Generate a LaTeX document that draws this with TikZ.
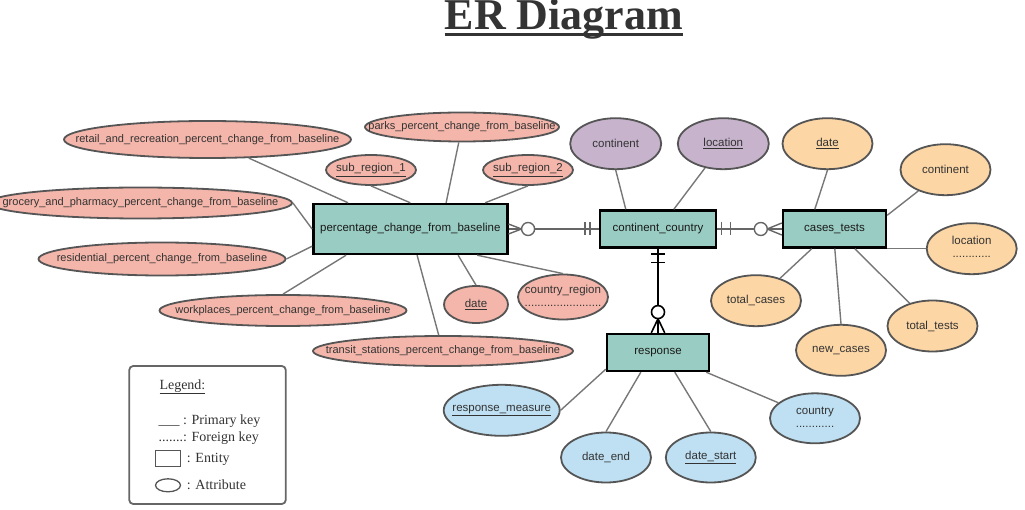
\documentclass[tikz,border=0pt]{standalone}
\usepackage{fontspec}
\setmainfont{Liberation Serif}
\setsansfont{Liberation Sans}
\usetikzlibrary{shapes.geometric,calc}
\definecolor{entfill}{HTML}{99CCC2}
\definecolor{pinkfill}{HTML}{F4B6AA}
\definecolor{purpfill}{HTML}{C7B4CC}
\definecolor{orgfill}{HTML}{FCD6A5}
\definecolor{bluefill}{HTML}{BEE0F2}
\definecolor{attrline}{HTML}{555555}
\definecolor{conncol}{HTML}{777777}
\definecolor{relcol}{HTML}{666666}
\definecolor{txtcol}{HTML}{333333}
\definecolor{enttxt}{HTML}{1A1A1A}
\tikzset{
  ent/.style={draw=black, line width=2.4pt, fill=entfill, inner sep=0pt,
    font=\sffamily\fontsize{11.5}{13}\selectfont, text=enttxt},
  attr/.style={ellipse, draw=attrline, line width=1.8pt, inner sep=0pt,
    font=\sffamily\fontsize{11.5}{13}\selectfont, text=txtcol},
  longattr/.style={font=\sffamily\fontsize{11}{13}\selectfont},
  pinkattr/.style={attr, fill=pinkfill},
  purpattr/.style={attr, fill=purpfill, minimum width=91pt, minimum height=51pt},
  orgattr/.style={attr, fill=orgfill, minimum width=90pt, minimum height=51pt},
  blueattr/.style={attr, fill=bluefill, minimum width=90pt, minimum height=50pt},
  conn/.style={draw=conncol, line width=1.4pt},
  rel/.style={draw=relcol, line width=1.4pt},
  relb/.style={draw=black, line width=1.6pt},
  legtxt/.style={inner sep=0pt, anchor=base west, font=\fontsize{14}{16}\selectfont, text=txtcol},
}
\newcommand{\two}[2]{\makebox[0pt]{\begin{tabular}{@{}c@{}}#1\\[0pt]#2\end{tabular}}}
\newcommand{\one}[1]{\makebox[0pt]{#1}}
\begin{document}
\begin{tikzpicture}[x=1pt,y=-1pt]
\useasboundingbox (0,0) rectangle (1025,510);
% title
\node[inner sep=0pt, anchor=base, font=\fontsize{44}{50}\selectfont\bfseries, text=txtcol] (title) at (564,30) {ER Diagram};
\draw[line width=3pt, txtcol] ([yshift=-4.3pt]title.base west) -- ([yshift=-4.3pt]title.base east);
% entities
\node[ent, minimum width=194pt, minimum height=50pt] (pcfb) at (410.3,229) {percentage\_change\_from\_baseline};
\node[ent, minimum width=116pt, minimum height=37pt] (cc) at (658,229) {continent\_country};
\node[ent, minimum width=103pt, minimum height=37pt] (ct) at (834.5,229) {cases\_tests};
\node[ent, minimum width=102pt, minimum height=37pt] (resp) at (658,352.5) {response};
% pink attributes
\node[pinkattr, longattr, minimum width=287pt, minimum height=37pt] (retail) at (207.5,139.5) {\one{retail\_and\_recreation\_percent\_change\_from\_baseline}};
\node[pinkattr, longattr, minimum width=194pt, minimum height=29pt] (parks) at (462,127) {\one{parks\_percent\_change\_from\_baseline}};
\node[pinkattr, minimum width=90pt, minimum height=30pt] (sub1) at (371,170) {\one{\underline{sub\_region\_1}}};
\node[pinkattr, minimum width=90pt, minimum height=30pt] (sub2) at (528,170) {\one{\underline{sub\_region\_2}}};
\node[pinkattr, longattr, minimum width=303pt, minimum height=31pt] (grocery) at (140.5,203) {\one{grocery\_and\_pharmacy\_percent\_change\_from\_baseline}};
\node[pinkattr, longattr, minimum width=247pt, minimum height=33pt] (residential) at (162,259) {\one{residential\_percent\_change\_from\_baseline}};
\node[pinkattr, longattr, minimum width=247pt, minimum height=31pt] (workplaces) at (283,310.5) {\one{workplaces\_percent\_change\_from\_baseline}};
\node[pinkattr, minimum width=64pt, minimum height=37pt] (datep) at (476,304.5) {\one{\underline{date}}};
\node[pinkattr, minimum width=90pt, minimum height=45pt] (countryregion) at (563,297) {\two{country\_region}{........................}};
\node[pinkattr, longattr, minimum width=260pt, minimum height=30pt] (transit) at (443,351) {\one{transit\_stations\_percent\_change\_from\_baseline}};
% purple attributes
\node[purpattr] (continentp) at (615.7,143.7) {\one{continent}};
\node[purpattr] (locationp) at (723.3,143.7) {\one{\underline{location}}};
% orange attributes
\node[orgattr] (dateo) at (827.5,143.7) {\one{\underline{date}}};
\node[orgattr] (continento) at (945.5,169.7) {\one{continent}};
\node[orgattr] (locationo) at (971.7,248.7) {\two{location}{............}};
\node[orgattr] (totalcases) at (756,300.7) {\one{total\_cases}};
\node[orgattr] (newcases) at (841,350.3) {\one{new\_cases}};
\node[orgattr] (totaltests) at (932.5,326) {\one{total\_tests}};
% blue attributes
\node[blueattr, minimum width=116pt, minimum height=51pt] (respmeasure) at (501.7,410.3) {\one{\underline{response\_measure}}};
\node[blueattr] (dateend) at (606,457.5) {\one{date\_end}};
\node[blueattr] (datestart) at (710.8,457.5) {\one{\underline{date\_start}}};
\node[blueattr] (countryb) at (815,418.3) {\two{country}{............}};
% attribute connectors
\draw[conn] (retail) -- ([xshift=36pt]pcfb.north west);
\draw[conn] (sub1.south) -- (pcfb.north);
\draw[conn] (parks) -- ([xshift=134pt]pcfb.north west);
\draw[conn] (sub2.south) -- ([xshift=173pt]pcfb.north west);
\draw[conn] (grocery.east) -- (pcfb.west);
\draw[conn] (residential.east) -- ([yshift=9pt]pcfb.south west);
\draw[conn] (workplaces.north) -- ([xshift=34pt]pcfb.south west);
\draw[conn] (transit) -- ([xshift=105pt]pcfb.south west);
\draw[conn] (datep.north) -- ([xshift=146pt]pcfb.south west);
\draw[conn] (countryregion.north) -- ([xshift=165pt]pcfb.south west);
\draw[conn] (continentp.south) -- ([xshift=27pt]cc.north west);
\draw[conn] (locationp) -- ([xshift=75pt]cc.north west);
\draw[conn] (dateo.south) -- ([xshift=33pt]ct.north west);
\draw[conn] (continento) -- ([yshift=-6pt]ct.north east);
\draw[conn] (locationo.west) -- (ct.south east);
\draw[conn] (totalcases) -- ([xshift=30pt]ct.south west);
\draw[conn] (newcases.north) -- ([xshift=53pt]ct.south west);
\draw[conn] (totaltests) -- ([xshift=73pt]ct.south west);
\draw[conn] (respmeasure.east) -- ([yshift=3pt]resp.south west);
\draw[conn] (dateend.north) -- ([xshift=35pt]resp.south west);
\draw[conn] (datestart.north) -- ([xshift=69pt]resp.south west);
\draw[conn] (countryb) -- ([xshift=-4pt]resp.south east);
% relationship pcfb -- cc
\draw[rel] (pcfb.east) -- (cc.west);
\draw[rel] ([yshift=5pt]pcfb.east) -- ([xshift=13pt]pcfb.east) -- ([yshift=-5pt]pcfb.east);
\draw[rel, fill=white] ([xshift=19.6pt]pcfb.east) circle[radius=6.5pt];
\draw[rel] ([xshift=-14pt,yshift=6.5pt]cc.west) -- ([xshift=-14pt,yshift=-6.5pt]cc.west);
\draw[rel] ([xshift=-9pt,yshift=6.5pt]cc.west) -- ([xshift=-9pt,yshift=-6.5pt]cc.west);
% relationship cc -- ct
\draw[rel] (cc.east) -- (ct.west);
\draw[rel] ([xshift=4pt,yshift=6.5pt]cc.east) -- ([xshift=4pt,yshift=-6.5pt]cc.east);
\draw[rel] ([xshift=13pt,yshift=6.5pt]cc.east) -- ([xshift=13pt,yshift=-6.5pt]cc.east);
\draw[rel] ([yshift=6pt]ct.west) -- ([xshift=-14.7pt]ct.west) -- ([yshift=-6pt]ct.west);
\draw[rel, fill=white] ([xshift=-21pt]ct.west) circle[radius=6.5pt];
% relationship cc -- response
\draw[relb] (cc.south) -- (resp.north);
\draw[relb] ([xshift=-6.7pt,yshift=-5.5pt]cc.south) -- ([xshift=6.7pt,yshift=-5.5pt]cc.south);
\draw[relb] ([xshift=-6.7pt,yshift=-14pt]cc.south) -- ([xshift=6.7pt,yshift=-14pt]cc.south);
\draw[relb] ([xshift=-6.7pt]resp.north) -- ([yshift=14pt]resp.north) -- ([xshift=6.7pt]resp.north);
\draw[relb, fill=white] ([yshift=20.7pt]resp.north) circle[radius=6.5pt];
% legend
\node[draw=relcol, line width=1.8pt, rounded corners=4pt, minimum width=156.5pt, minimum height=138pt, inner sep=0pt] (legend) at (207.5,435) {};
\node[legtxt] (legtitle) at (159.3,389) {\underline{Legend:}};
\node[legtxt] (legpk) at (158.3,424.5) {\_\_\_ : Primary key};
\node[legtxt] (legfk) at (158.3,441) {.......: Foreign key};
\node[draw=attrline, line width=1.3pt, minimum width=25pt, minimum height=16pt, inner sep=0pt] (legent) at (168,458.7) {};
\node[legtxt] (legentt) at (186.7,462.5) {: Entity};
\node[ellipse, draw=attrline, line width=1.3pt, minimum width=25pt, minimum height=13pt, inner sep=0pt] (legatt) at (168,485.3) {};
\node[legtxt] (legattt) at (186.7,489) {: Attribute};
\end{tikzpicture}
\end{document}
